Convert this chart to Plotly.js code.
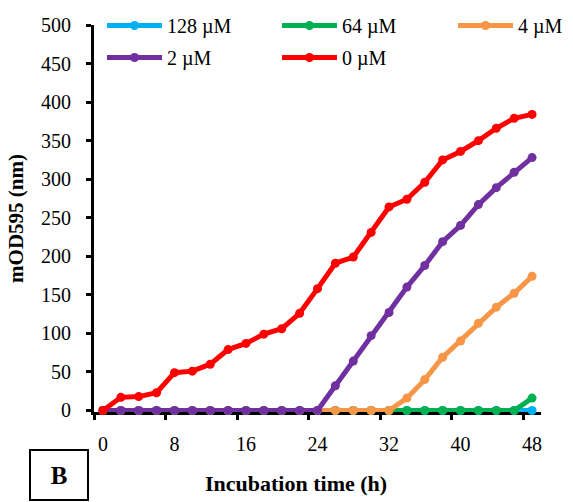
<!DOCTYPE html>
<html>
<head>
<meta charset="utf-8">
<script src="https://cdn.plot.ly/plotly-3.0.1.min.js"></script>
<style>
html,body{margin:0;padding:0;background:#ffffff;}
#chart{width:573px;height:502px;}
</style>
</head>
<body>
<div id="chart"></div>
<script>
// ---- data ----
const hours = [0,2,4,6,8,10,12,14,16,18,20,22,24,26,28,30,32,34,36,38,40,42,44,46,48];
const seriesNames = ['128 µM','64 µM','4 µM','2 µM','0 µM'];
const seriesColors = ['#00B0F0','#00B050','#F79646','#7030A0','#FF0000'];
const conc128 = [0,0,0,0,0,0,0,0,0,0,0,0,0,0,0,0,0,0,0,0,0,0,0,0,0];
const conc64  = [0,0,0,0,0,0,0,0,0,0,0,0,0,0,0,0,0,0,0,0,0,0,0,0,16];
const conc4   = [0,0,0,0,0,0,0,0,0,0,0,0,0,0,0,0,0,16,40,69,90,113,134,152,174];
const conc2   = [0,0,0,0,0,0,0,0,0,0,0,0,0,32,64,97,127,160,188,219,240,267,289,309,328];
const conc0   = [0,17,18,23,49,51,60,79,87,99,106,126,158,191,199,231,264,274,296,325,336,350,366,379,384];
const seriesValues = [conc128, conc64, conc4, conc2, conc0];
const xTickLabels = [0,8,16,24,32,40,48];
const xTickMarks = [-1,7,15,23,31,39,47];
const yTickLabels = [0,50,100,150,200,250,300,350,400,450,500];

const serif = 'Liberation Serif, Times New Roman, serif';
const L = 94, R = 32, T = 25, B = 90;
const plotW = 573 - L - R, plotH = 502 - T - B;
const px2x = p => (p - L) / plotW;
const px2y = p => (502 - B - p) / plotH;

// one legend per entry (2 rows x 3 columns like the original)
const legendIds = ['legend','legend2','legend3','legend4','legend5'];
const legendLeftPx = [102, 277, 453, 102, 277];
const legendTopPx = [6, 6, 6, 38, 38];

// ---- traces ----
const traces = seriesValues.map((vals, i) => ({
  x: hours,
  y: vals,
  name: seriesNames[i],
  type: 'scatter',
  mode: 'lines+markers',
  line: {color: seriesColors[i], width: 5},
  marker: {color: seriesColors[i], size: 9},
  cliponaxis: false,
  legend: legendIds[i],
  hoverinfo: 'skip'
}));

const layout = {
  width: 573, height: 502,
  margin: {l: L, r: R, t: T, b: B, pad: 0, autoexpand: false},
  paper_bgcolor: '#ffffff', plot_bgcolor: '#ffffff',
  font: {family: serif, size: 20, color: '#000000'},
  showlegend: true,
  xaxis: {
    range: [-1, 49],
    tickmode: 'array', tickvals: xTickLabels, ticktext: xTickLabels.map(String),
    ticks: '', showgrid: false, zeroline: false,
    showline: true, linecolor: '#000000', linewidth: 3,
    layer: 'below traces', automargin: false,
    tickfont: {family: serif, size: 20, color: '#000'},
    ticklabelstandoff: 12,
    minor: {tickmode: 'array', tickvals: xTickMarks, ticks: 'outside', ticklen: 5, tickwidth: 3, tickcolor: '#000000', showgrid: false}
  },
  yaxis: {
    range: [-2, 500],
    tickmode: 'array', tickvals: yTickLabels, ticktext: yTickLabels.map(String),
    ticks: 'outside', ticklen: 5, tickwidth: 3, tickcolor: '#000000',
    showline: true, linecolor: '#000000', linewidth: 3,
    showgrid: false, zeroline: false,
    layer: 'below traces', automargin: false,
    tickfont: {family: serif, size: 20, color: '#000'},
    ticklabelstandoff: 11,
    title: {text: '<b>mOD595 (nm)</b>', font: {family: serif, size: 21, color: '#000'}, standoff: 12}
  },
  annotations: [
    {
      text: '<b>Incubation time (h)</b>', xref: 'paper', yref: 'paper',
      x: px2x(296), y: px2y(484), xanchor: 'center', yanchor: 'middle',
      showarrow: false, font: {family: serif, size: 22, color: '#000'}
    },
    {
      text: '<b>B</b>', xref: 'paper', yref: 'paper',
      x: px2x(59), y: px2y(475), xanchor: 'center', yanchor: 'middle',
      showarrow: false, font: {family: serif, size: 25, color: '#000'},
      bordercolor: '#000000', borderwidth: 2, borderpad: 0, width: 56, height: 48
    }
  ]
};

legendIds.forEach((id, i) => {
  layout[id] = {
    orientation: 'h', x: px2x(legendLeftPx[i]), xanchor: 'left',
    y: px2y(legendTopPx[i]), yanchor: 'top', itemwidth: 55,
    font: {family: serif, size: 20, color: '#000'}, bgcolor: 'rgba(0,0,0,0)'
  };
});

Plotly.newPlot('chart', traces, layout, {displayModeBar: false, staticPlot: true});
</script>
</body>
</html>
